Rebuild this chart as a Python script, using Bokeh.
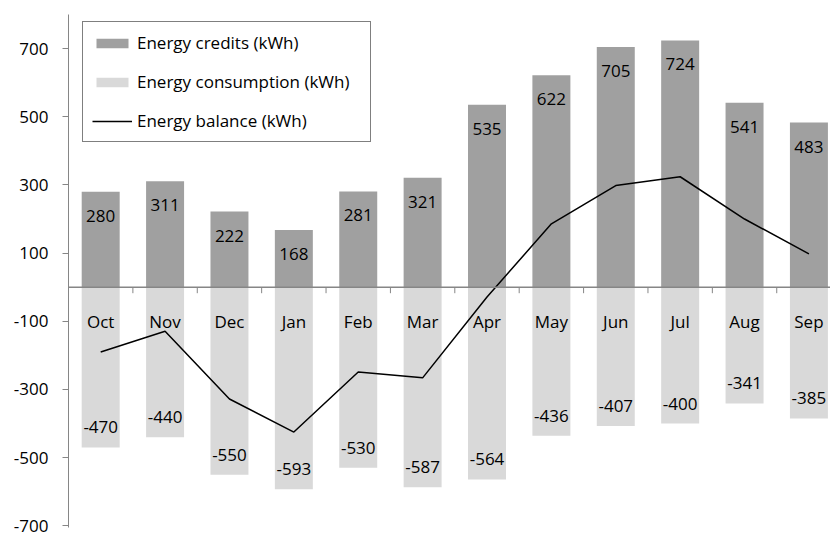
from bokeh.plotting import figure
from bokeh.models import (Range1d, FixedTicker, Span, Legend, LegendItem,
                          ColumnDataSource)
from bokeh.core.properties import value
from bokeh.embed import file_html
from bokeh.resources import INLINE

months = ["Oct", "Nov", "Dec", "Jan", "Feb", "Mar", "Apr", "May", "Jun", "Jul", "Aug", "Sep"]
credits = [280, 311, 222, 168, 281, 321, 535, 622, 705, 724, 541, 483]
consumption = [-470, -440, -550, -593, -530, -587, -564, -436, -407, -400, -341, -385]
balance = [-190, -129, -328, -425, -249, -266, -29, 186, 298, 324, 200, 98]
y_ticks = [-700, -500, -300, -100, 100, 300, 500, 700]

FONT = "Open Sans"
FS = "17px"

idx = list(range(len(months)))
src = ColumnDataSource(dict(
    x=idx, month=months, credits=credits, consumption=consumption, balance=balance,
    credits_lbl=[str(v) for v in credits],
    consumption_lbl=[str(v) for v in consumption],
))
bsrc = ColumnDataSource(dict(xb=[i + 0.5 for i in idx], yb=[0] * len(idx)))

p = figure(width=830, height=533, output_backend="svg", toolbar_location=None,
           x_axis_location=None,
           x_range=Range1d(-0.5, 11.335), y_range=Range1d(-705, 800),
           min_border_left=68, min_border_right=0, min_border_top=14, min_border_bottom=6)
p.outline_line_color = None
p.xgrid.visible = False
p.ygrid.visible = False

ya = p.yaxis[0]
ya.ticker = FixedTicker(ticks=y_ticks)
ya.major_label_overrides = {t: str(t) for t in y_ticks}
ya.axis_line_color = "#868686"
ya.major_tick_line_color = "#868686"
ya.minor_tick_line_color = None
ya.major_tick_out = 6
ya.major_tick_in = 0
ya.major_label_standoff = 14
ya.major_label_text_font = FONT
ya.major_label_text_font_size = FS
ya.major_label_text_color = "black"

r_cred = p.vbar(x="x", top="credits", bottom=0, width=0.59, source=src,
                fill_color="#a0a0a0", line_color=None)
r_cons = p.vbar(x="x", top=0, bottom="consumption", width=0.59, source=src,
                fill_color="#d9d9d9", line_color=None)

p.add_layout(Span(location=0, dimension="width", line_color="#868686", line_width=1.5))
p.ray(x="xb", y="yb", length=6, length_units="screen", angle=-1.5707963, source=bsrc,
      line_color="#868686", line_width=1)

r_bal = p.line(x="x", y="balance", source=src, line_color="black", line_width=1.5)

p.text(x="x", y="credits", text="credits_lbl", source=src, y_offset=24,
       text_align="center", text_baseline="middle", text_font=value(FONT),
       text_font_size=FS, text_color="black")
p.text(x="x", y="consumption", text="consumption_lbl", source=src, y_offset=-20,
       text_align="center", text_baseline="middle", text_font=value(FONT),
       text_font_size=FS, text_color="black")
p.text(x="x", y=0, text="month", source=src, y_offset=34,
       text_align="center", text_baseline="middle", text_font=value(FONT),
       text_font_size=FS, text_color="black")

legend = Legend(items=[
    LegendItem(label="Energy credits (kWh)", renderers=[r_cred]),
    LegendItem(label="Energy consumption (kWh)", renderers=[r_cons]),
    LegendItem(label="Energy balance (kWh)", renderers=[r_bal]),
], location=(14, 385))
legend.border_line_color = "black"
legend.border_line_width = 1
legend.background_fill_color = "white"
legend.background_fill_alpha = 1
legend.label_text_font = FONT
legend.label_text_font_size = FS
legend.label_text_color = "black"
legend.glyph_width = 40
legend.glyph_height = 12
legend.label_height = 20
legend.label_width = 224
legend.label_standoff = 5
legend.spacing = 16
legend.padding = 9
legend.margin = 0
p.add_layout(legend, "center")

open("out.html", "w").write(file_html(p, INLINE))
